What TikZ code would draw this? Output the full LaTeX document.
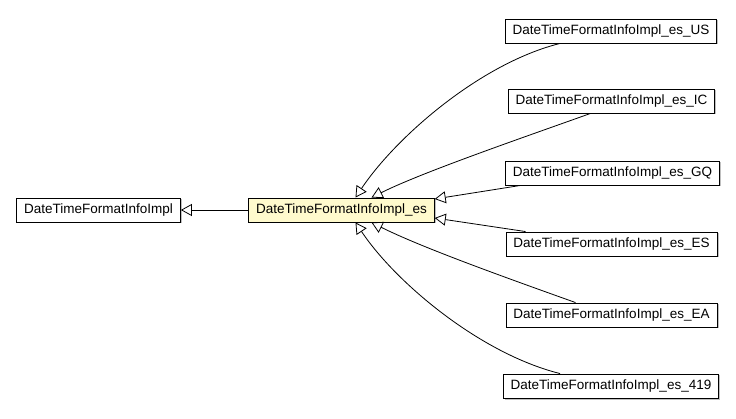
\documentclass[tikz,border=0pt]{standalone}
\usepackage{fontspec}
\setmainfont{Liberation Sans}
\usetikzlibrary{arrows.meta}
\begin{document}
\begin{tikzpicture}[x=1pt,y=-1pt,
  cls/.style={draw=black, line width=0.9pt, fill=white, minimum height=24pt, inner xsep=7.5pt, font=\fontsize{13.5pt}{15pt}\selectfont},
  shadowed/.style={preaction={fill=black!25, transform canvas={shift={(1.5pt,-1.5pt)}}}},
  inh/.style={-{Triangle[open,length=11pt,width=12pt]}, line width=0.8pt}]
\useasboundingbox (0,0) rectangle (736,419);
\node[cls, shadowed] (base) at (98.5,210) {DateTimeFormatInfoImpl};
\node[cls, shadowed, fill={rgb,255:red,255;green,250;blue,205}] (es) at (341.5,210) {DateTimeFormatInfoImpl\_es};
\node[cls, shadowed] (us) at (611,31) {DateTimeFormatInfoImpl\_es\_US};
\node[cls, shadowed] (ic) at (611.5,101) {DateTimeFormatInfoImpl\_es\_IC};
\node[cls, shadowed] (gq) at (612.5,173) {DateTimeFormatInfoImpl\_es\_GQ};
\node[cls, shadowed] (esES) at (611.5,244) {DateTimeFormatInfoImpl\_es\_ES};
\node[cls, shadowed] (ea) at (611.5,315) {DateTimeFormatInfoImpl\_es\_EA};
\node[cls, shadowed] (n419) at (611,386) {DateTimeFormatInfoImpl\_es\_419};
\draw[inh] (es) -- (base);
\draw[inh] ([xshift=-51pt]us.south) .. controls +(-80,20) and +(40,-60) .. ([xshift=14pt]es.north);
\draw[inh] ([xshift=-21pt]ic.south) .. controls +(-70,25) and +(50,-25) .. ([xshift=30pt]es.north);
\draw[inh] ([xshift=-92pt]gq.south) -- ([yshift=11pt]es.east);
\draw[inh] ([xshift=-86pt]esES.north) -- ([yshift=-8pt]es.east);
\draw[inh] ([xshift=-36pt]ea.north) .. controls +(-70,-25) and +(50,25) .. ([xshift=30pt]es.south);
\draw[inh] ([xshift=-51pt]n419.north) .. controls +(-80,-20) and +(40,60) .. ([xshift=14pt]es.south);
\end{tikzpicture}
\end{document}
